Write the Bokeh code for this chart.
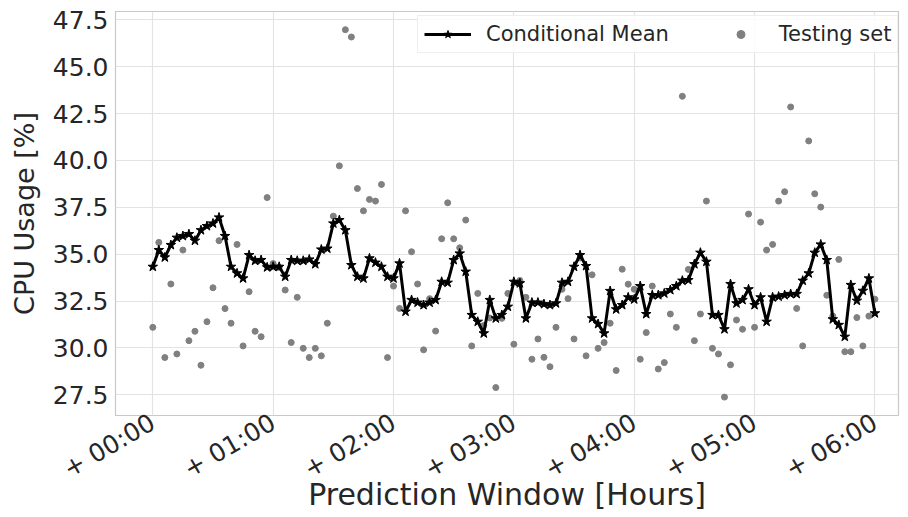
from bokeh.plotting import figure
from bokeh.models import Range1d, Legend, LegendItem, FixedTicker, PrintfTickFormatter
from bokeh.embed import file_html
from bokeh.resources import INLINE
import math

# sample index (3-minute steps over 6 hours)
step_minutes = 3
conditional_mean = [
    34.33, 35.22, 34.83, 35.49, 35.88, 35.97, 36.07, 35.72, 36.28, 36.50,
    36.64, 36.96, 35.97, 34.33, 33.98, 33.71, 34.95, 34.65, 34.69, 34.30,
    34.33, 34.33, 33.80, 34.69, 34.65, 34.65, 34.72, 34.47, 35.25, 35.30,
    36.64, 36.82, 36.28, 34.42, 33.80, 33.71, 34.78, 34.55, 34.33, 33.80,
    33.71, 34.51, 31.94, 32.56, 32.42, 32.29, 32.42, 32.56, 33.53, 33.48,
    34.69, 35.04, 34.07, 31.76, 31.40, 30.78, 32.56, 31.58, 31.76, 32.20,
    33.53, 33.45, 31.58, 32.42, 32.42, 32.34, 32.29, 32.38, 33.48, 33.53,
    34.33, 34.95, 34.37, 31.58, 31.28, 30.78, 33.04, 32.06, 32.29, 32.70,
    32.59, 33.30, 31.81, 32.82, 32.82, 32.91, 33.09, 33.30, 33.59, 33.62,
    34.47, 35.08, 34.60, 31.76, 31.76, 31.00, 33.41, 32.38, 32.56, 33.13,
    32.29, 32.70, 31.40, 32.70, 32.74, 32.82, 32.88, 32.88, 33.59, 33.98,
    35.08, 35.52, 34.69, 31.53, 31.23, 30.60, 33.36, 32.52, 33.05, 33.71,
    31.85,
]
testing_set = [
    31.10, 35.63, 29.49, 33.41, 29.68, 35.22, 30.39, 30.89, 29.08, 31.40,
    33.21, 35.72, 32.10, 31.32, 35.52, 30.11, 33.00, 30.89, 30.60, 38.02,
    34.50, 34.30, 33.09, 30.29, 32.70, 29.98, 29.49, 29.98, 29.58, 31.32,
    37.03, 39.71, 46.97, 46.58, 38.50, 37.31, 37.92, 37.83, 38.72, 29.49,
    33.30, 32.11, 37.31, 35.13, 33.41, 29.90, 32.63, 30.90, 35.82, 37.74,
    35.82, 35.34, 36.82, 30.11, 32.91, 31.20, 31.60, 27.89, 31.58, 32.91,
    30.20, 33.60, 32.70, 29.40, 30.48, 29.50, 29.00, 31.10, 33.13, 32.63,
    30.48, 34.80, 29.58, 33.90, 29.98, 30.29, 31.32, 28.80, 34.20, 33.40,
    33.13, 29.40, 30.82, 33.30, 28.88, 29.22, 31.81, 31.10, 43.42, 34.19,
    30.39, 31.81, 37.83, 29.98, 29.68, 27.38, 29.10, 31.49, 31.00, 37.14,
    31.10, 36.71, 35.22, 35.52, 37.83, 38.33, 42.85, 32.11, 30.11, 41.04,
    38.22, 37.51, 32.81, 31.70, 34.72, 29.80, 29.80, 31.62, 30.11, 31.70,
    32.60,
]
tick_hours = [0, 1, 2, 3, 4, 5, 6]
tick_labels = ["+ 00:00", "+ 01:00", "+ 02:00", "+ 03:00", "+ 04:00", "+ 05:00", "+ 06:00"]
y_ticks = [27.5, 30.0, 32.5, 35.0, 37.5, 40.0, 42.5, 45.0, 47.5]
x_title = "Prediction Window [Hours]"
y_title = "CPU Usage [%]"

hours = [i * step_minutes / 60.0 for i in range(len(conditional_mean))]

FONT = "DejaVu Sans"
TXT = "#262626"

p = figure(width=908, height=517, output_backend="svg", toolbar_location=None,
           x_range=Range1d(-0.31, 6.196), y_range=Range1d(26.4, 47.94),
           min_border_left=115, min_border_right=10, min_border_top=11,
           min_border_bottom=102)
p.background_fill_color = "white"
p.border_fill_color = "white"
p.outline_line_color = "#c8c8c8"
p.outline_line_width = 1.2

dots = p.scatter(hours, testing_set, marker="circle", size=6,
                 fill_color="#808080", line_color="#808080")
line_r = p.line(hours, conditional_mean, line_color="black", line_width=3)
stars = p.scatter(hours, conditional_mean, marker="star", size=10,
                  fill_color="black", line_color="black")

p.xaxis.ticker = FixedTicker(ticks=tick_hours)
p.xaxis.major_label_overrides = {h: lab for h, lab in zip(tick_hours, tick_labels)}
p.xaxis.major_label_orientation = math.pi / 6
p.yaxis.ticker = FixedTicker(ticks=y_ticks)
p.yaxis.formatter = PrintfTickFormatter(format="%.1f")

for ax in (p.xaxis, p.yaxis):
    ax.axis_line_color = None
    ax.major_tick_line_color = None
    ax.minor_tick_line_color = None
    ax.major_tick_out = 0
    ax.major_tick_in = 0
    ax.minor_tick_out = 0
    ax.major_label_text_font = FONT
    ax.major_label_text_font_size = "25px"
    ax.major_label_text_color = TXT
    ax.axis_label_text_font = FONT
    ax.axis_label_text_font_style = "normal"
    ax.axis_label_text_color = TXT

p.xaxis.major_label_standoff = 5
p.yaxis.major_label_standoff = 7
p.yaxis.axis_label = y_title
p.yaxis.axis_label_text_font_size = "27px"
p.yaxis.axis_label_standoff = 10
p.xaxis.axis_label = x_title
p.xaxis.axis_label_text_font_size = "30px"
p.xaxis.axis_label_standoff = -22

p.xgrid.ticker = FixedTicker(ticks=tick_hours)
p.grid.grid_line_color = "#e3e3e3"
p.grid.grid_line_width = 1.2

legend = Legend(items=[LegendItem(label="Conditional Mean", renderers=[line_r, stars]),
                       LegendItem(label="Testing set", renderers=[dots])],
                orientation="horizontal", location=(302, 362),
                label_text_font=FONT, label_text_font_size="21px",
                label_text_color=TXT,
                glyph_width=47, glyph_height=20, label_standoff=15, spacing=48,
                padding=6, margin=0, border_line_color="#dddddd",
                border_line_width=1, background_fill_alpha=0.85)
p.add_layout(legend)

open("out.html", "w").write(file_html(p, INLINE))
